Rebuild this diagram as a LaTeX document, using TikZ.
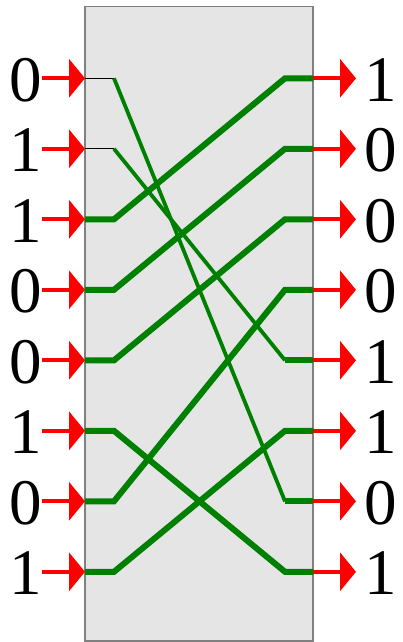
\documentclass[tikz,border=0pt]{standalone}
\usepackage{fontspec}
\setmainfont{Liberation Serif}
\usetikzlibrary{arrows.meta}

% #1=row, #2=bit
\newcommand{\inbit}[2]{%
  \coordinate (L#1) at (85, {78.3+70.5*#1});
  \coordinate (P#1) at (114, {78.3+70.5*#1});
  \node[bitlabel] (bitin#1) at (26, {79.8+70.5*#1}) {#2};
  \draw[sigarr] (bitin#1.east |- L#1) -- (L#1);
}
% #1=row, #2=bit
\newcommand{\outbit}[2]{%
  \coordinate (R#1) at (313, {78.3+70.5*#1});
  \coordinate (Q#1) at (285, {78.3+70.5*#1});
  \coordinate (T#1) at (356, {78.3+70.5*#1});
  \node[bitlabel] (bitout#1) at (381, {79.8+70.5*#1}) {#2};
  \draw[sigarr] (R#1) -- (T#1);
}
% #1=from row, #2=to row
\newcommand{\wire}[2]{%
  \draw[wire] (L#1) -- (P#1) -- (Q#2) -- (R#2);
}
% thin variant: black stub, lighter crossing
\newcommand{\dimwire}[2]{%
  \draw[stub] (L#1) -- (P#1);
  \draw[cross] (P#1) -- (Q#2);
  \draw[wire] (Q#2) -- (R#2);
}

\begin{document}
\begin{tikzpicture}[
  x=1pt, y=-1pt,
  chip/.style={fill=gray!20, draw=gray, line width=1.2pt},
  bitlabel/.style={inner sep=0pt, font=\fontsize{65}{65}\selectfont},
  sigarr/.style={red, line width=4pt, -{Triangle[length=16pt, width=38pt]}},
  wire/.style={green!50!black, line width=6pt},
  cross/.style={green!50!black, line width=3.8pt},
  stub/.style={black, line width=1.2pt},
]
\useasboundingbox (0,0) rectangle (403,642);

% Network box
\draw[chip] (85,6.7) rectangle (313,641);

% Inputs
\inbit{0}{0}
\inbit{1}{1}
\inbit{2}{1}
\inbit{3}{0}
\inbit{4}{0}
\inbit{5}{1}
\inbit{6}{0}
\inbit{7}{1}

% Outputs
\outbit{0}{1}
\outbit{1}{0}
\outbit{2}{0}
\outbit{3}{0}
\outbit{4}{1}
\outbit{5}{1}
\outbit{6}{0}
\outbit{7}{1}

% Permutation
\dimwire{0}{6}
\dimwire{1}{4}
\wire{2}{0}
\wire{3}{1}
\wire{4}{2}
\wire{5}{7}
\wire{6}{3}
\wire{7}{5}

\end{tikzpicture}
\end{document}
